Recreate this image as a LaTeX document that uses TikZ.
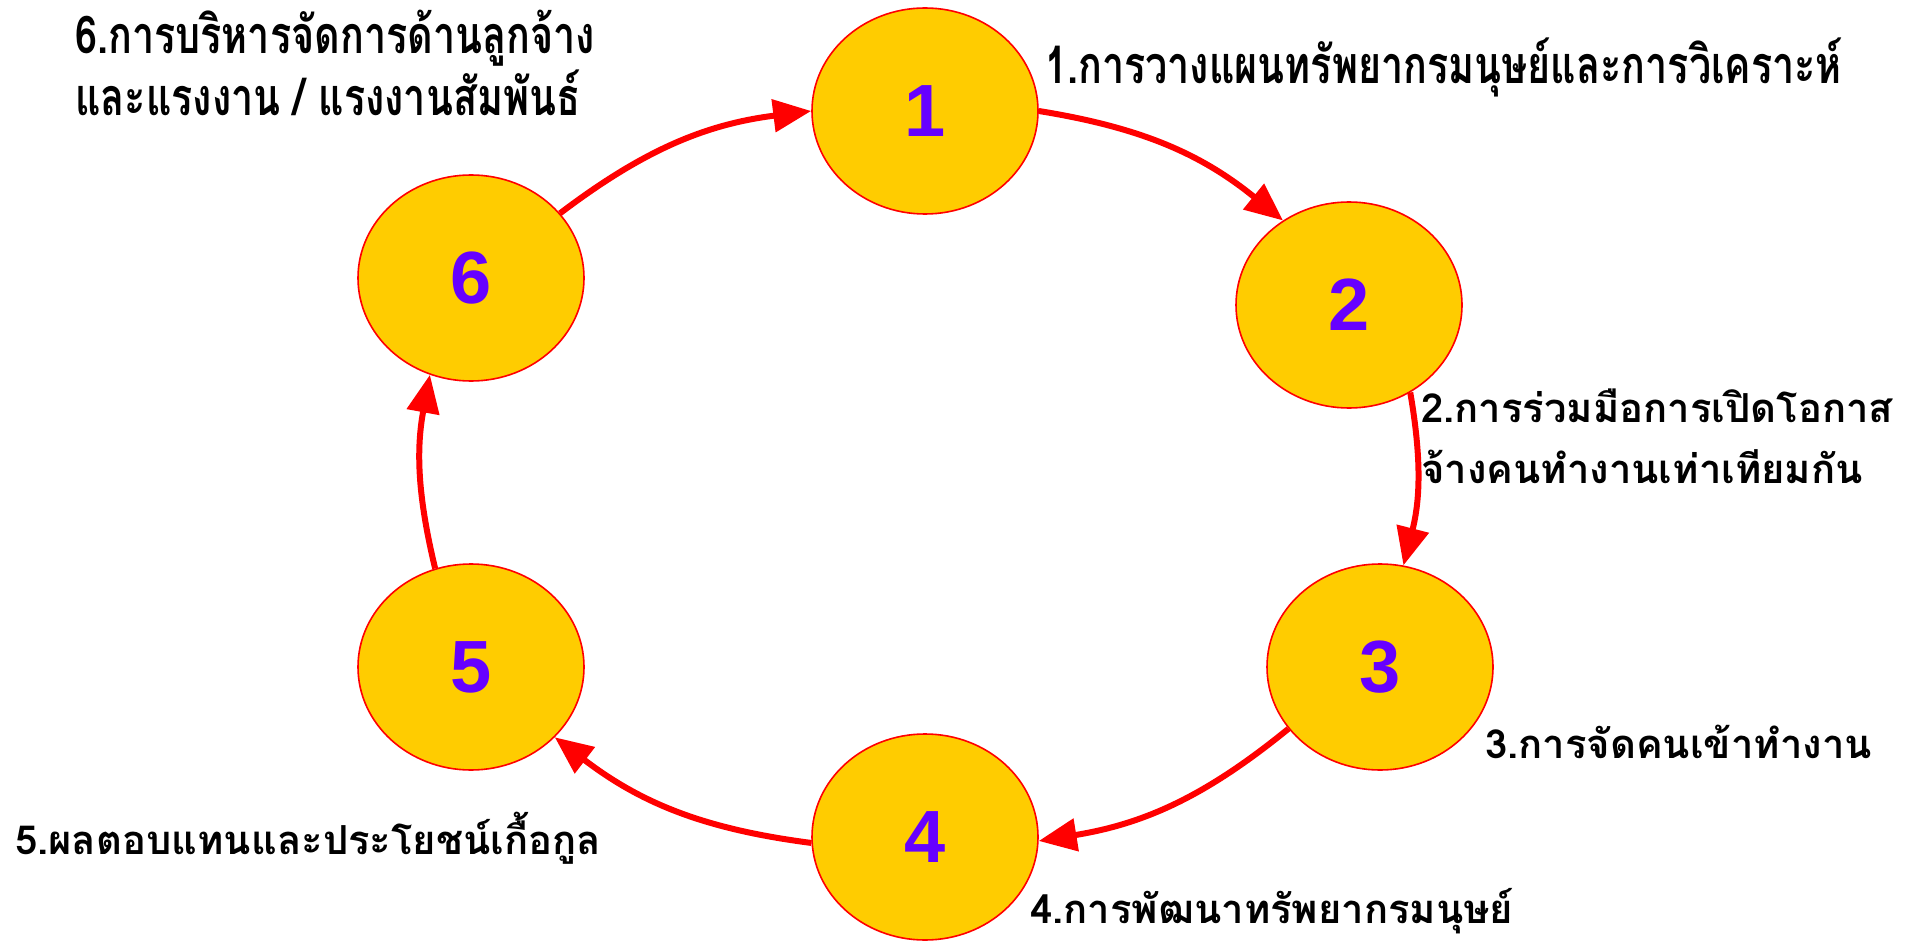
\documentclass[tikz,border=0pt]{standalone}
\usepackage{fontspec}
\usetikzlibrary{shapes.geometric,arrows.meta}
\newfontfamily\thaib[Script=Thai]{Loma}
\newfontfamily\thaic[Script=Thai,FakeStretch=0.76]{Loma}
\newfontfamily\numfont{Liberation Sans}
\definecolor{ellfill}{RGB}{255,204,0}
\definecolor{numcol}{RGB}{102,0,255}
\tikzset{
  stage/.style={ellipse, draw=red, line width=1.6pt, fill=ellfill,
    minimum width=226pt, minimum height=206pt, inner sep=0pt,
    font=\numfont\bfseries\fontsize{74}{80}\selectfont, text=numcol},
  flow/.style={draw=red, line width=6pt, -{Triangle[length=38pt,width=32pt]}},
  lblb/.style={anchor=west, inner sep=0pt, align=left,
    font=\thaib\bfseries\fontsize{40}{61}\selectfont},
  lblc/.style={anchor=west, inner sep=0pt, align=left,
    font=\thaic\bfseries\fontsize{52}{62}\selectfont}
}
\begin{document}
\begin{tikzpicture}[x=1pt,y=1pt]
\useasboundingbox (0,0) rectangle (1905,-941);
\node[stage] (n1) at (925,-111) {1};
\node[stage] (n2) at (1349,-305) {2};
\node[stage] (n3) at (1380,-667) {3};
\node[stage] (n4) at (925,-837) {4};
\node[stage] (n5) at (471,-667) {5};
\node[stage] (n6) at (471,-278) {6};
\draw[flow] (n1.0) to[bend left=15] (n2.128);
\draw[flow] (n2.-55) to[bend left=12] (n3.77);
\draw[flow] (n3.-146) to[bend left=15] (n4.-2);
\draw[flow] (n4.183) to[bend left=15] (n5.-40);
\draw[flow] (n5.110) to[bend left=12] (n6.247);
\draw[flow] (n6.36) to[bend left=15] (n1.180);
\node[lblc] (t1) at (1045,-67) {1.การวางแผนทรัพยากรมนุษย์และการวิเคราะห์};
\node[lblb] (t2) at (1421,-436) {2.การร่วมมือการเปิดโอกาส\\จ้างคนทำงานเท่าเทียมกัน};
\node[lblb] (t3) at (1485,-742) {3.การจัดคนเข้าทำงาน};
\node[lblb] (t4) at (1030,-911) {4.การพัฒนาทรัพยากรมนุษย์};
\node[lblb] (t5) at (15,-838) {5.ผลตอบแทนและประโยชน์เกื้อกูล};
\node[lblc] (t6) at (75,-63) {6.การบริหารจัดการด้านลูกจ้าง\\และแรงงาน / แรงงานสัมพันธ์};
\end{tikzpicture}
\end{document}
